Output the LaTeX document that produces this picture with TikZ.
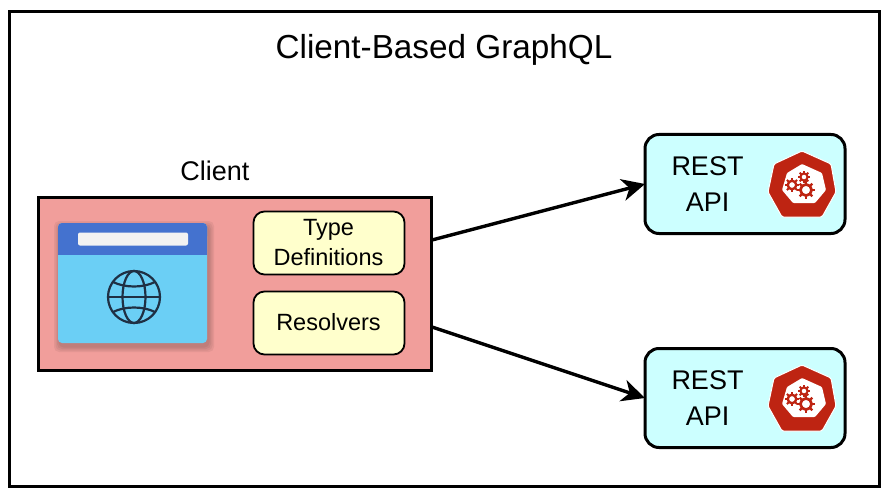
\documentclass[tikz,border=0pt]{standalone}
\usepackage{fontspec}
\setmainfont{Liberation Sans}
\usetikzlibrary{arrows.meta}
\definecolor{clientred}{HTML}{F19E9B}
\definecolor{paleyellow}{HTML}{FFFFCC}
\definecolor{palecyan}{HTML}{CCFFFF}
\definecolor{k8sred}{HTML}{BE2412}
\definecolor{headblue}{HTML}{4472CF}
\definecolor{bodyblue}{HTML}{6BCFF5}
\definecolor{globeink}{HTML}{1F3044}
\tikzset{
  x=1pt,y=-1pt,
  box/.style={draw=black,line width=3pt,outer sep=0pt,inner sep=0pt,anchor=center},
  restbox/.style={box,rounded corners=14pt,fill=palecyan,minimum width=200pt,minimum height=99pt},
  notebox/.style={draw=black,line width=1.8pt,rounded corners=11pt,fill=paleyellow,outer sep=0pt,minimum width=151pt,minimum height=63pt},
  label/.style={font=\fontsize{27}{36}\selectfont,align=center,text=black},
  smalllabel/.style={font=\fontsize{23.5}{30}\selectfont,align=center,text=black},
  flow/.style={line width=3.4pt,-{Stealth[length=23pt,width=22pt,inset=7pt]}},
}
\newcommand{\cog}[3]{%
  \foreach \a in {0,45,...,315}{\draw[k8sred,line width=#3*0.7pt] (#1)++(\a:#2*0.95) -- ++(\a:#3*0.8);}
  \draw[k8sred,line width=#3*0.8pt,fill=white] (#1) circle[radius=#2*0.85];
}
\newcommand{\kubeicon}[1]{%
\begin{scope}[shift={(0,#1)}]
  \draw[white,line width=1pt,fill=k8sred,rounded corners=1.5pt] (802,151)--(831,164)--(836,192)--(822,217)--(782,217)--(768,192)--(774,164)--cycle;
  \fill[white,rounded corners=1pt] (802,164)--(822,173)--(826,190)--(815,203)--(793,203)--(782,190)--(787,173)--cycle;
  \cog{804,177}{4.2}{2.6}
  \cog{792,185}{5}{3}
  \cog{806,190}{6.6}{3.4}
\end{scope}}
\begin{document}
\begin{tikzpicture}
\useasboundingbox (0,0) rectangle (891,500);
\fill[white] (0,0) rectangle (891,500);
\node[box,minimum width=870pt,minimum height=475pt] (frame) at (444.5,249) {};
\node[font=\fontsize{33.3}{38}\selectfont] (title) at (444,50) {Client-Based GraphQL};
\node[font=\fontsize{27}{30}\selectfont] (clientlabel) at (215,171) {Client};
\node[box,fill=clientred,minimum width=393pt,minimum height=173pt] (client) at (235,284) {};
% browser window
\foreach \o in {7,5.5,4,2.5}{
  \fill[black!70!clientred,opacity=0.08,rounded corners=5pt] (58-\o+3,223-\o+5) rectangle (207+\o,343+\o+2);
}
\fill[bodyblue,rounded corners=4pt] (58,223) rectangle (207,343);
\fill[headblue,rounded corners=4pt] (58,223) rectangle (207,240);
\fill[headblue] (58,232) rectangle (207,255);
\fill[white!95!black,rounded corners=2pt] (78,232.5) rectangle (188,245.5);
\begin{scope}[draw=globeink,line width=2.2pt]
  \draw (134,297) circle[radius=26];
  \draw (134,297) ellipse[x radius=11.5,y radius=26];
  \draw (108,297) -- (160,297);
  \draw (113,282) .. controls (125,288) and (143,288) .. (155,282);
  \draw (113,312) .. controls (125,306) and (143,306) .. (155,312);
\end{scope}
\node[notebox] (types) at (329,243) {};
\node[smalllabel] (typestext) at (328.5,243) {Type\\Definitions};
\node[notebox] (resolvers) at (329,323) {};
\node[smalllabel] (resolverstext) at (328.5,322.5) {Resolvers};
\node[restbox] (rest1) at (745,184) {};
\node[restbox] (rest2) at (745,398) {};
\node[label] (rest1text) at (707.5,184) {REST\\API};
\node[label] (rest2text) at (707.5,398) {REST\\API};
\kubeicon{0}
\kubeicon{214}
\coordinate (out1) at (432,240);
\coordinate (out2) at (432,327);
\draw[flow] (out1) -- (rest1.west);
\draw[flow] (out2) -- (rest2.west);
\end{tikzpicture}
\end{document}
